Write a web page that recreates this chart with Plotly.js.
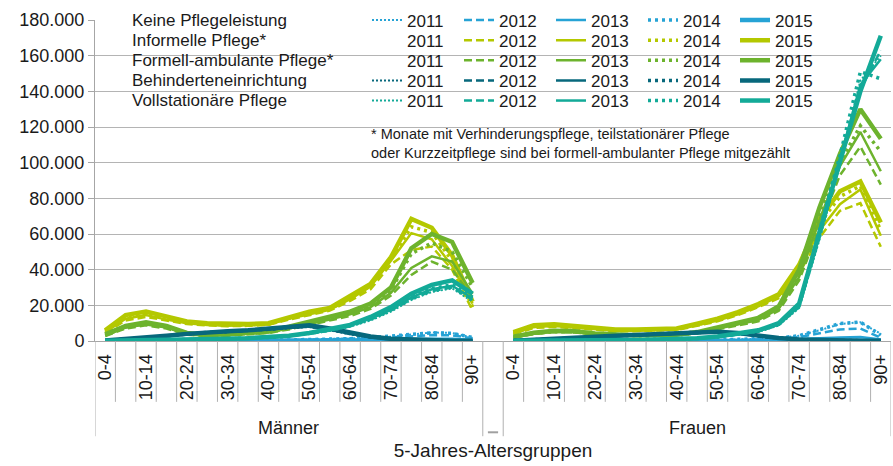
<!DOCTYPE html>
<html><head><meta charset="utf-8">
<script src="https://cdn.plot.ly/plotly-3.0.1.min.js"></script>
<style>html,body{margin:0;padding:0;background:#fff}#chart{width:893px;height:466px}</style>
</head><body><div id="chart"></div>
<script>
// ---------- categories & labels ----------
const ages = ['0-4','5-9','10-14','15-19','20-24','25-29','30-34','35-39','40-44','45-49','50-54','55-59','60-64','65-69','70-74','75-79','80-84','85-89','90+'];
const sexes = ['Männer','Frauen'];
const years = ['2011','2012','2013','2014','2015'];
const careTypes = ['Keine Pflegeleistung','Informelle Pflege*','Formell-ambulante Pflege*','Behinderteneinrichtung','Vollstationäre Pflege'];
const xTitle = '5-Jahres-Altersgruppen';
const yTickVals = [0,20000,40000,60000,80000,100000,120000,140000,160000,180000];
const yTickText = ['0','20.000','40.000','60.000','80.000','100.000','120.000','140.000','160.000','180.000'];
const footnote = '* Monate mit Verhinderungspflege, teilstationärer Pflege<br>oder Kurzzeitpflege sind bei formell-ambulanter Pflege mitgezählt';

// ---------- Keine Pflegeleistung ----------
const keine_M_2011 = [100,100,200,200,300,300,400,400,500,600,800,1000,1300,1800,2500,3500,4800,4500,2000];
const keine_M_2012 = [100,100,200,200,300,300,300,400,500,500,700,900,1100,1500,2000,2700,3300,3200,1500];
const keine_M_2013 = [50,100,100,100,200,200,200,300,300,400,500,600,700,800,1000,1200,1400,1300,600];
const keine_M_2014 = [100,100,200,200,300,300,400,400,500,600,800,1000,1300,1900,2700,3800,4600,4300,2000];
const keine_M_2015 = [0,0,50,50,100,100,100,100,100,100,100,100,100,100,100,100,100,100,100];
const keine_F_2011 = [100,100,200,200,300,300,300,400,400,500,600,800,1000,1600,3000,6000,9500,10500,4000];
const keine_F_2012 = [100,100,100,200,200,200,300,300,400,400,500,600,800,1200,2200,4200,6500,7000,1800];
const keine_F_2013 = [50,50,100,100,100,100,200,200,200,300,300,400,500,700,1000,1500,2000,2200,800];
const keine_F_2014 = [100,100,200,200,300,300,300,400,400,500,600,800,1000,1600,3000,6200,9800,10600,3300];
const keine_F_2015 = [0,0,50,50,50,100,100,100,100,100,100,100,100,100,100,100,100,100,100];

// ---------- Informelle Pflege ----------
const informelle_M_2011 = [null,null,null,null,null,null,null,null,null,null,null,null,null,null,null,null,null,null,null];
const informelle_M_2012 = [4500,11500,13500,11500,9500,8800,8300,8500,9000,12000,14500,17000,22500,29000,43000,51000,53000,40000,17000];
const informelle_M_2013 = [5000,12500,14500,12000,10000,9000,8500,8800,9200,12500,15000,17500,23500,30500,45000,60500,57000,42000,21000];
const informelle_M_2014 = [5500,13500,15500,12800,10500,9500,9000,9000,9500,12800,15800,18000,24000,31000,46000,64000,61000,45000,19000];
const informelle_M_2015 = [6000,14500,16500,13500,11000,10000,9500,9500,10000,13500,16500,18500,25000,32000,47000,68500,63500,48000,22000];
const informelle_F_2011 = [null,null,null,null,null,null,null,null,null,null,null,null,null,null,null,null,null,null,null];
const informelle_F_2012 = [3800,7300,7900,7100,6000,5500,5500,5800,6200,8500,11000,14500,19000,24000,38000,58000,73000,77300,52800];
const informelle_F_2013 = [4200,7800,8400,7500,6300,5800,5800,6000,6400,8800,11500,15000,19500,25000,40000,62000,76700,85000,59000];
const informelle_F_2014 = [4500,8200,8800,7900,6600,6000,6000,6200,6600,9200,12000,15600,20000,25500,41000,66000,81000,87000,62000];
const informelle_F_2015 = [5000,8800,9400,8400,7000,6400,6400,6600,7000,9700,12500,16200,20700,26200,42700,68400,84000,89500,66500];

// ---------- Formell-ambulante Pflege ----------
const formell_M_2011 = [null,null,null,null,null,null,null,null,null,null,null,null,null,null,null,null,null,null,null];
const formell_M_2012 = [2800,7000,8800,7000,3500,2800,3000,3700,4500,6500,9000,11500,14000,18000,25500,37000,44500,40000,24500];
const formell_M_2013 = [3000,7500,9300,7500,3800,3000,3300,4000,4800,7000,9500,12000,15000,19000,27000,41000,47500,44500,26500];
const formell_M_2014 = [3300,7800,9800,8000,4000,3200,3500,4200,5000,7200,10000,12500,15500,20000,28500,49000,55000,50000,30000];
const formell_M_2015 = [3800,8500,10500,8500,4500,3500,3800,4500,5500,8000,11000,13500,16500,21000,30000,52000,60000,55500,32500];
const formell_F_2011 = [null,null,null,null,null,null,null,null,null,null,null,null,null,null,null,null,null,null,null];
const formell_F_2012 = [1900,3900,5000,4800,3700,3000,2800,2800,3100,4300,6600,8800,11000,17000,34000,64000,93000,109000,87700];
const formell_F_2013 = [2000,4100,5200,5000,3800,3100,2900,2900,3200,4500,6900,9200,11800,18000,36000,68000,98000,117200,95200];
const formell_F_2014 = [2200,4300,5400,5200,4000,3300,3000,3000,3300,4700,7200,9600,12400,19000,38000,72000,100000,120700,106200];
const formell_F_2015 = [2400,4600,5700,5500,4200,3500,3200,3200,3500,5000,7500,10000,13000,19500,40000,75000,105000,130000,113400];

// ---------- Behinderteneinrichtung ----------
const behind_M_2011 = [300,800,1600,2600,3600,4500,5000,5600,6300,7200,7800,6000,3700,1900,900,500,300,200,100];
const behind_M_2012 = [300,800,1700,2700,3700,4600,5100,5700,6400,7400,8000,6300,3900,2000,900,500,300,200,100];
const behind_M_2013 = [300,900,1800,2800,3800,4700,5200,5800,6500,7600,8300,6500,4100,2200,1000,500,300,200,100];
const behind_M_2014 = [300,900,1900,2900,3900,4800,5300,5900,6600,7800,8500,6800,4300,2300,1100,600,300,200,100];
const behind_M_2015 = [300,1000,2000,3000,4000,5000,5500,6000,6800,8000,8800,7000,4500,2500,1200,700,400,200,100];
const behind_F_2011 = [200,500,1000,1500,2100,2600,3100,3600,4000,4400,4600,3900,2600,1400,700,400,200,100,100];
const behind_F_2012 = [200,500,1000,1600,2200,2700,3200,3700,4100,4600,4800,4100,2700,1500,800,400,200,100,100];
const behind_F_2013 = [200,600,1100,1700,2300,2800,3300,3800,4300,4700,5000,4300,2800,1600,800,400,300,200,100];
const behind_F_2014 = [200,600,1100,1700,2300,2900,3400,3900,4400,4900,5100,4400,2900,1600,900,500,300,200,100];
const behind_F_2015 = [200,600,1200,1800,2400,3000,3500,4000,4500,5000,5200,4500,3000,1700,900,500,300,200,100];

// ---------- Vollstationäre Pflege ----------
const voll_M_2011 = [100,200,300,500,700,900,1200,1500,1800,2600,3900,5600,8000,11500,16500,23000,27500,29500,22000];
const voll_M_2012 = [100,200,400,500,700,900,1200,1500,1900,2700,4000,5800,8200,12000,17000,23500,28000,30000,23000];
const voll_M_2013 = [100,200,400,600,800,1000,1300,1600,1900,2800,4200,6000,8500,12500,17500,24500,29000,31000,24000];
const voll_M_2014 = [100,200,400,600,800,1000,1300,1600,2000,2900,4300,6200,8700,13000,18000,25000,29500,31500,24500];
const voll_M_2015 = [100,200,400,600,800,1000,1300,1600,2000,3000,4500,6500,9000,13500,19000,26500,31500,34000,26500];
const voll_F_2011 = [100,100,200,300,300,400,500,700,900,1300,2100,3400,5100,8700,18500,57000,99000,146000,160000];
const voll_F_2012 = [100,100,200,300,400,500,600,700,900,1300,2200,3500,5300,9000,19000,58000,100000,141000,163000];
const voll_F_2013 = [100,100,200,300,400,500,600,800,1000,1400,2300,3700,5500,9200,19500,60000,102000,143600,158000];
const voll_F_2014 = [100,100,200,300,400,500,600,800,1000,1400,2400,3800,5700,9500,20000,62000,104000,151000,147000];
const voll_F_2015 = [100,100,200,300,400,500,600,800,1000,1500,2500,4000,6000,10000,21000,61000,101400,140000,171200];

// ---------- assemble ----------
const seriesM = [
  [keine_M_2011,keine_M_2012,keine_M_2013,keine_M_2014,keine_M_2015],
  [informelle_M_2011,informelle_M_2012,informelle_M_2013,informelle_M_2014,informelle_M_2015],
  [formell_M_2011,formell_M_2012,formell_M_2013,formell_M_2014,formell_M_2015],
  [behind_M_2011,behind_M_2012,behind_M_2013,behind_M_2014,behind_M_2015],
  [voll_M_2011,voll_M_2012,voll_M_2013,voll_M_2014,voll_M_2015]
];
const seriesF = [
  [keine_F_2011,keine_F_2012,keine_F_2013,keine_F_2014,keine_F_2015],
  [informelle_F_2011,informelle_F_2012,informelle_F_2013,informelle_F_2014,informelle_F_2015],
  [formell_F_2011,formell_F_2012,formell_F_2013,formell_F_2014,formell_F_2015],
  [behind_F_2011,behind_F_2012,behind_F_2013,behind_F_2014,behind_F_2015],
  [voll_F_2011,voll_F_2012,voll_F_2013,voll_F_2014,voll_F_2015]
];

const colors = ['#26a3d5','#b4c800','#6db32d','#07687c','#13aa98'];
const yearStyles = [
  {dash:'2px,2px', width:2},
  {dash:'8px,4px', width:2.5},
  {dash:'solid', width:2.5},
  {dash:'3px,4px', width:3.5},
  {dash:'solid', width:4.5}
];

const FONT = 'Liberation Sans, Arial, sans-serif';
const n = ages.length;
const xM = ages.map((_, i) => i);
const xF = ages.map((_, i) => i + n + 1);
const xAll = xM.concat([n], xF);

const traces = [];
careTypes.forEach((ct, c) => {
  years.forEach((yr, k) => {
    const m = seriesM[c][k], f = seriesF[c][k];
    const hasData = m.some(v => v !== null) || f.some(v => v !== null);
    traces.push({
      type: 'scatter', mode: 'lines',
      x: xAll, y: m.concat([null], f),
      name: yr,
      legend: c === 0 ? 'legend' : 'legend' + (c + 1),
      line: {color: colors[c], dash: yearStyles[k].dash, width: hasData ? yearStyles[k].width : 0},
      connectgaps: false,
      hoverinfo: 'skip'
    });
  });
});

// plot geometry (pixels) for placing legend/annotation boxes
const W = 893, H = 466, ML = 95, MR = 2, MT = 14, MB = 125;
const PW = W - ML - MR, PH = H - MT - MB;
const px2x = p => (p - ML) / PW;
const py2y = p => (H - MB - p) / PH;

const layout = {
  width: W, height: H,
  margin: {l: ML, r: MR, t: MT, b: MB, pad: 0},
  paper_bgcolor: '#fff', plot_bgcolor: '#fff',
  font: {family: FONT, color: '#1a1a1a'},
  showlegend: true,
  xaxis: {
    range: [-0.5, xAll.length - 0.5],
    tickmode: 'array',
    tickvals: xM.filter(i => i % 2 === 0).concat(xF.filter((_, i) => i % 2 === 0)),
    ticktext: ages.filter((_, i) => i % 2 === 0).concat(ages.filter((_, i) => i % 2 === 0)),
    tickangle: -90,
    tickfont: {size: 18, family: FONT, color: '#1a1a1a'},
    ticks: '', ticklabelstandoff: 5,
    showgrid: false, zeroline: false,
    showline: true, linecolor: '#a6a6a6', linewidth: 1,
    title: {text: xTitle, font: {size: 19, family: FONT, color: '#1a1a1a'}, standoff: 44},
    automargin: false, fixedrange: true
  },
  yaxis: {
    range: [0, 180000],
    tickmode: 'array', tickvals: yTickVals, ticktext: yTickText,
    tickfont: {size: 18, family: FONT, color: '#1a1a1a'},
    showgrid: true, gridcolor: '#b4b4b4', gridwidth: 1,
    showline: true, linecolor: '#a6a6a6', linewidth: 1,
    ticks: 'outside', ticklen: 6, tickcolor: '#a6a6a6',
    zeroline: false, automargin: false, fixedrange: true
  },
  shapes: [],
  annotations: []
};

// legends: one horizontal row per care type
const rowY = [14.5, 35, 55.5, 76, 96.5];
careTypes.forEach((ct, c) => {
  const key = c === 0 ? 'legend' : 'legend' + (c + 1);
  layout[key] = {
    orientation: 'h', x: px2x(367), xanchor: 'left', y: py2y(rowY[c]), yanchor: 'middle',
    entrywidth: 47, entrywidthmode: 'pixels', itemwidth: 30,
    bgcolor: 'rgba(0,0,0,0)', borderwidth: 0, traceorder: 'normal',
    font: {family: FONT, size: 17, color: '#1a1a1a'}
  };
  layout.annotations.push({
    text: ct, xref: 'paper', yref: 'paper', x: px2x(130), y: py2y(rowY[c]),
    xanchor: 'left', yanchor: 'middle', showarrow: false,
    font: {family: FONT, size: 17, color: '#1a1a1a'}
  });
});

// white boxes behind legend and footnote (hide gridlines there)
layout.shapes.push({type: 'rect', layer: 'between', xref: 'paper', yref: 'paper',
  x0: px2x(118), x1: px2x(822), y0: py2y(108), y1: py2y(0), fillcolor: '#fff', line: {width: 0}});
layout.shapes.push({type: 'rect', layer: 'between', xref: 'paper', yref: 'paper',
  x0: px2x(365), x1: px2x(805), y0: py2y(167), y1: py2y(113), fillcolor: '#fff', line: {width: 0}});

layout.annotations.push({
  text: footnote, xref: 'paper', yref: 'paper', x: px2x(369), y: py2y(139.5),
  xanchor: 'left', yanchor: 'middle', align: 'left', showarrow: false,
  font: {family: FONT, size: 14.5, color: '#1a1a1a'}
});

// category separators of the multi-level axis
const shortY = py2y(403), longY = py2y(438);
for (let b = 0; b < xAll.length + 1; b++) {
  const pos = b - 0.5;
  const isLong = (b === 0 || b === n || b === n + 1 || b === xAll.length);
  layout.shapes.push({type: 'line', xref: 'x', yref: 'paper', x0: pos, x1: pos, y0: 0, y1: isLong ? longY : shortY,
    line: {color: '#b0b0b0', width: 1}});
}
// blank group marker
layout.shapes.push({type: 'line', xref: 'x', yref: 'paper', x0: n - 0.25, x1: n + 0.25, y0: py2y(434), y1: py2y(434),
  line: {color: '#a0a0a0', width: 2}});

// group labels
sexes.forEach((s, i) => {
  const mid = i === 0 ? (xM[0] + xM[n - 1]) / 2 : (xF[0] + xF[n - 1]) / 2;
  layout.annotations.push({
    text: s, xref: 'x', yref: 'paper', x: mid, y: py2y(430),
    xanchor: 'center', yanchor: 'middle', showarrow: false,
    font: {family: FONT, size: 18, color: '#1a1a1a'}
  });
});

Plotly.newPlot('chart', traces, layout, {displayModeBar: false, staticPlot: true});
</script>
</body></html>
